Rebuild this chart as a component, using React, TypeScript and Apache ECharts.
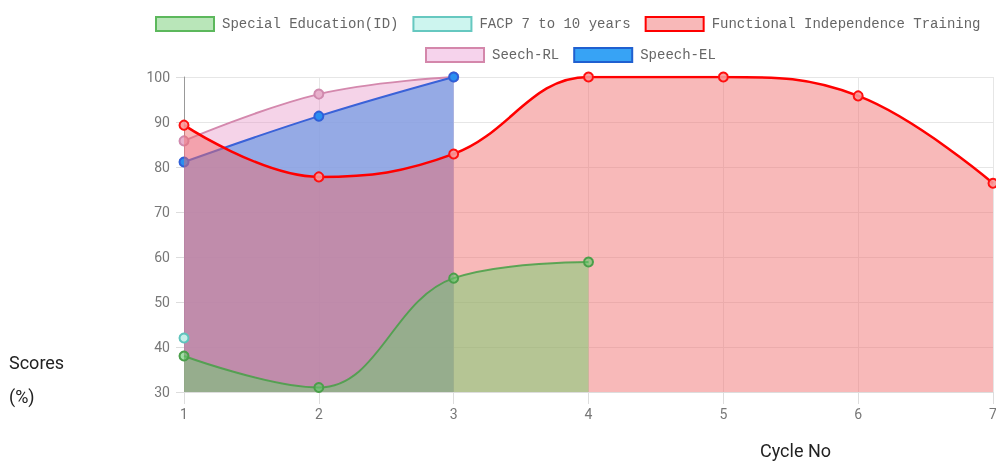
import React, { useEffect, useRef } from "react";
import * as echarts from "echarts";

const categories = ["1", "2", "3", "4", "5", "6", "7"];
const specialEducation = [38, 31, 55.3, 58.9];
const facp = [42];
const functionalIndependence = [89.3, 77.8, 82.9, 100, 100, 95.8, 76.4];
const seechRL = [85.8, 96.2, 100];
const speechEL = [81.1, 91.3, 100];
const legendRow1 = ["Special Education(ID)", "FACP 7 to 10 years", "Functional Independence Training"];
const legendRow2 = ["Seech-RL", "Speech-EL"];

const styles: Record<string, any> = {
  "Special Education(ID)": {
    line: "rgba(70,160,70,0.85)", area: "rgba(99,212,105,0.45)", dot: "rgba(99,200,105,0.6)",
    dotBorder: "#4a9f4a", legFill: "#b9e6b9", legBorder: "#5cb85c", z: 6, width: 2,
  },
  "FACP 7 to 10 years": {
    line: "#5cc8c0", area: "rgba(120,220,210,0.3)", dot: "#c5efe9",
    dotBorder: "#60c4bd", legFill: "#cdf5ef", legBorder: "#66c8c0", z: 5, width: 2,
  },
  "Functional Independence Training": {
    line: "#ff0000", area: "rgba(240,107,107,0.47)", dot: "rgba(250,150,150,0.9)",
    dotBorder: "#ff1010", legFill: "#f8b8b8", legBorder: "#ff0000", z: 4, width: 2.5,
  },
  "Seech-RL": {
    line: "#d488ad", area: "rgba(230,150,200,0.42)", dot: "#e8b0cc",
    dotBorder: "#d08aae", legFill: "#f6d3ec", legBorder: "#d487ab", z: 2, width: 2,
  },
  "Speech-EL": {
    line: "#3a62d8", area: "rgba(125,160,228,0.8)", dot: "#2b8ff0",
    dotBorder: "#2f5fd8", legFill: "#37a3f5", legBorder: "#2060d0", z: 3, width: 2,
  },
};

const seriesData: [string, number[]][] = [
  ["Special Education(ID)", specialEducation],
  ["FACP 7 to 10 years", facp],
  ["Functional Independence Training", functionalIndependence],
  ["Seech-RL", seechRL],
  ["Speech-EL", speechEL],
];

export default function App() {
  const ref = useRef<HTMLDivElement>(null);
  useEffect(() => {
    if (!ref.current) return;
    const chart = echarts.init(ref.current, undefined, { renderer: "svg" });
    const legendCommon = {
      orient: "horizontal",
      icon: "rect",
      itemWidth: 58,
      itemHeight: 14,
      itemGap: 14,
      textStyle: {
        fontFamily: "Liberation Mono",
        fontSize: 14,
        color: "#666",
        padding: [0, 0, 0, 3],
      },
    };
    const legData = (names: string[]) =>
      names.map((n) => ({
        name: n,
        itemStyle: { color: styles[n].legFill, borderColor: styles[n].legBorder, borderWidth: 2 },
      }));
    chart.setOption({
      animation: false,
      legend: [
        { ...legendCommon, left: 150, top: 11, data: legData(legendRow1) },
        { ...legendCommon, left: 420, top: 42, data: legData(legendRow2) },
      ],
      grid: { left: 184, width: 809, top: 77, height: 315, containLabel: false },
      xAxis: {
        type: "category",
        data: categories,
        boundaryGap: false,
        axisLine: { show: true, lineStyle: { color: "#ddd" } },
        axisTick: { show: true, length: 12, lineStyle: { color: "#ddd" } },
        axisLabel: { margin: 15, fontSize: 14, color: "#777", fontFamily: "Roboto" },
        splitLine: { show: true, lineStyle: { color: "#e6e6e6" } },
      },
      yAxis: {
        type: "value",
        min: 30,
        max: 100,
        interval: 10,
        axisLine: { show: true, lineStyle: { color: "#999" } },
        axisTick: { show: true, length: 8, lineStyle: { color: "#ddd" } },
        axisLabel: { margin: 14, fontSize: 14, color: "#777", fontFamily: "Roboto" },
        splitLine: { show: true, lineStyle: { color: "#e6e6e6" } },
      },
      series: seriesData.map(([name, data]) => {
        const s = styles[name];
        return {
          name,
          type: "line",
          data,
          z: s.z,
          smooth: 0.4,
          symbol: "circle",
          symbolSize: 9,
          showSymbol: true,
          lineStyle: { color: s.line, width: s.width },
          itemStyle: { color: s.dot, borderColor: s.dotBorder, borderWidth: 2 },
          areaStyle: { color: s.area, origin: "start", opacity: 1 },
        };
      }),
      graphic: [
        { type: "text", left: 9, top: 353, style: { text: "Scores", fontFamily: "Roboto", fontSize: 18, fill: "#222" } },
        { type: "text", left: 9, top: 387, style: { text: "(%)", fontFamily: "Roboto", fontSize: 18, fill: "#222" } },
        { type: "text", left: 760, top: 441, style: { text: "Cycle No", fontFamily: "Roboto", fontSize: 18, fill: "#222" } },
      ],
    });
    return () => chart.dispose();
  }, []);
  return <div ref={ref} style={{ position: "fixed", left: 0, top: 0, width: 1000, height: 462 }} />;
}
